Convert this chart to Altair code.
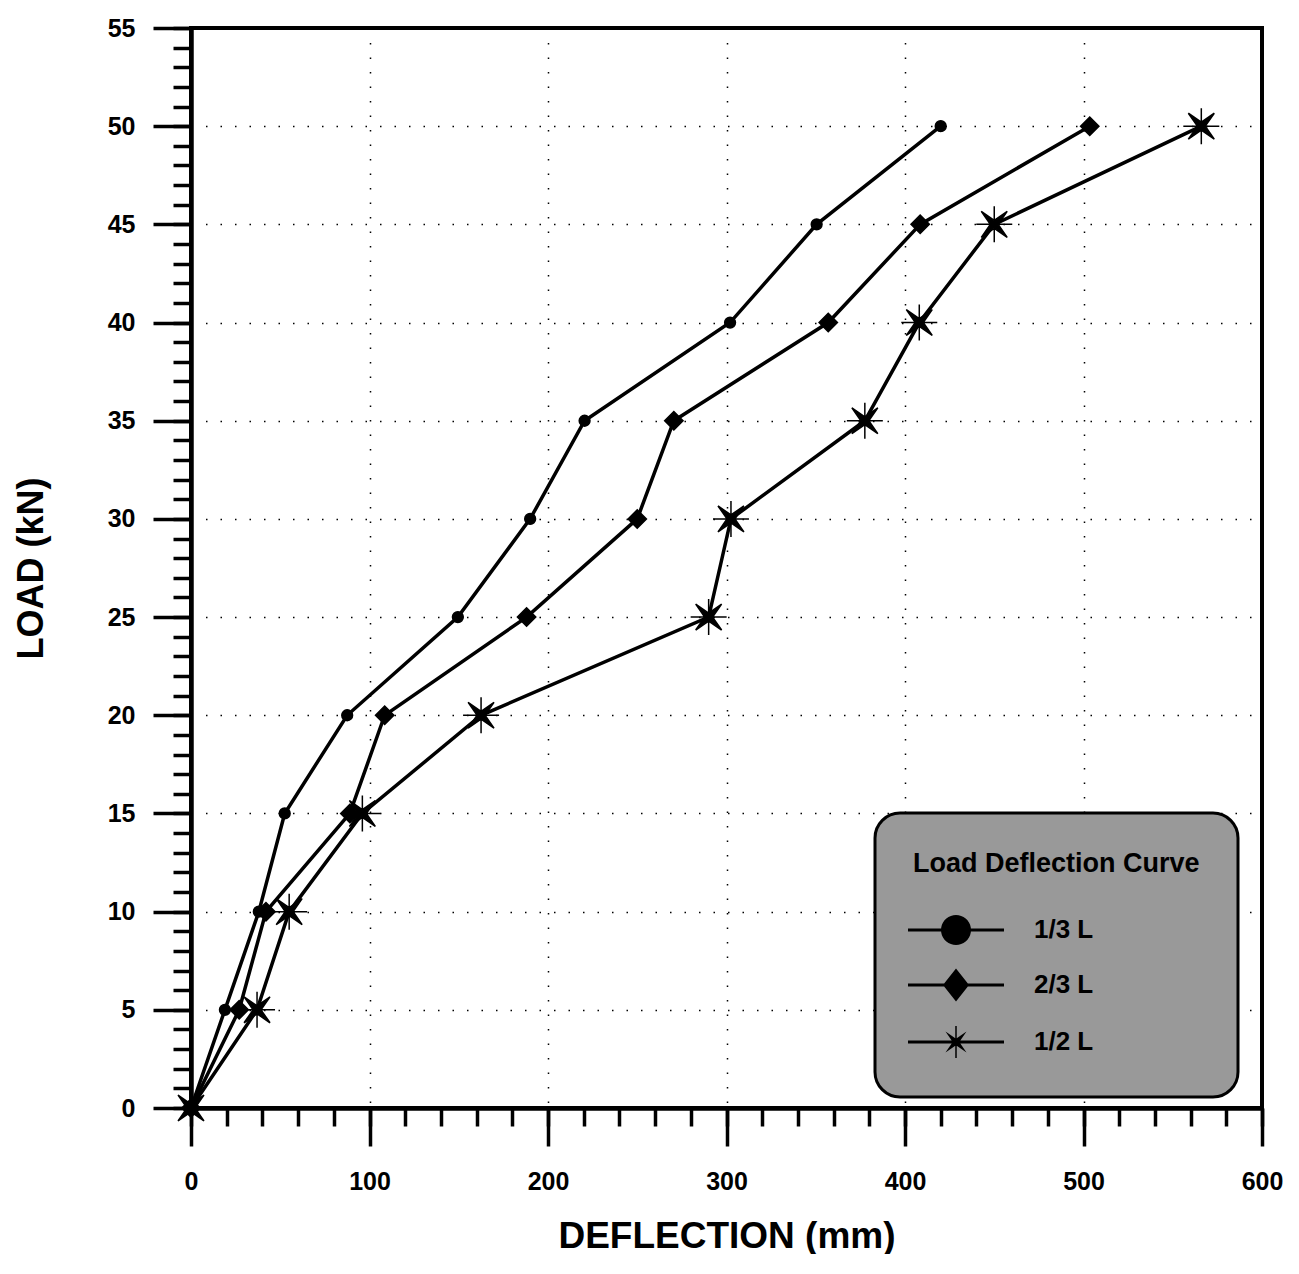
import math
import altair as alt
import pandas as pd

# ---- data ----
load = [0, 5, 10, 15, 20, 25, 30, 35, 40, 45, 50]
defl_13 = [0, 19, 38, 52.5, 87.5, 149.5, 190, 220.5, 302, 350.5, 420]
defl_23 = [0, 27, 42, 89, 108.5, 188, 250, 270.5, 357, 408.5, 503.5]
defl_12 = [0, 37, 55, 96, 162.5, 290, 302.5, 377.5, 408, 450, 566]
series = ["1/3 L", "2/3 L", "1/2 L"]

x_major = list(range(0, 601, 100))
x_minor = list(range(0, 601, 20))
y_major = list(range(0, 56, 5))
y_minor = list(range(0, 56, 1))

rows = []
for name, vals in zip(series, [defl_13, defl_23, defl_12]):
    for l, d in zip(load, vals):
        rows.append({"series": name, "deflection": d, "load": l})
df = pd.DataFrame(rows)

BOLD = "Liberation Sans, Arial, Helvetica, sans-serif"

# plot marker shapes (unit = 18 px at size 1296)
P_CIRCLE = "M-0.3,0A0.3,0.3,0,1,1,0.3,0A0.3,0.3,0,1,1,-0.3,0Z"
P_DIAMOND = "M-0.51,0L0,-0.51L0.51,0L0,0.51Z"
P_STAR = ("M-0.72,-0.72L0,-0.22L0.72,-0.72L0.22,0L0.72,0.72L0,0.22L-0.72,0.72L-0.22,0Z"
          "M0,-1V1M-1,0H1")
point_shapes = [P_CIRCLE, P_DIAMOND, P_STAR]

# legend symbols: marker with a line through it, all filled (unit = 15 px at size 900)
LINE = "M-3.2,-0.1H3.2V0.1H-3.2Z"
circ_pts = ["%.3f,%.3f" % (math.cos(2 * math.pi * k / 36), math.sin(2 * math.pi * k / 36))
            for k in range(36)]
LEG_CIRCLE = LINE + "M" + "L".join(circ_pts) + "Z"
LEG_DIAMOND = LINE + "M0,-1.1L0.87,0L0,1.1L-0.87,0Z"
LEG_STAR = (LINE + "M-0.7,-0.7L0,-0.22L0.7,-0.7L0.22,0L0.7,0.7L0,0.22L-0.7,0.7L-0.22,0Z"
            "M-0.05,-1.07H0.05V1.07H-0.05Z")
legend_shapes = [LEG_CIRCLE, LEG_DIAMOND, LEG_STAR]

xscale = alt.Scale(domain=[0, 600], nice=False)
yscale = alt.Scale(domain=[0, 55], nice=False)

common_axis = dict(domainColor="black", domainWidth=4, tickColor="black",
                   tickWidth=3.5, labelColor="black", titleColor="black")

x_axis_major = alt.Axis(values=x_major, tickSize=38, labelFont=BOLD, labelFontSize=25,
                        labelFontWeight="bold", labelPadding=23, labelFlush=False,
                        labelOverlap=False, title="DEFLECTION (mm)", titleFont=BOLD,
                        titleFontSize=37, titleFontWeight="bold", titlePadding=24,
                        grid=True, gridDash=[1.5, 13], gridColor="black", gridWidth=1.5,
                        gridOpacity=1, orient="bottom", **common_axis)
x_axis_minor = alt.Axis(values=x_minor, tickSize=18, labels=False, grid=False,
                        orient="bottom", title=None, **common_axis)
y_axis_major = alt.Axis(values=y_major, tickSize=38, labelFont=BOLD, labelFontSize=25,
                        labelFontWeight="bold", labelPadding=18, labelFlush=False,
                        labelOverlap=False, title="LOAD (kN)", titleFont=BOLD,
                        titleFontSize=36, titleFontWeight="bold", titlePadding=57,
                        grid=True, gridDash=[1.5, 13], gridColor="black", gridWidth=1.5,
                        gridOpacity=1, orient="left", **common_axis)
y_axis_minor = alt.Axis(values=y_minor, tickSize=18, labels=False, grid=False,
                        orient="left", title=None, **common_axis)

base = alt.Chart(df)

lines = base.mark_line(color="black", strokeWidth=3.5).encode(
    x=alt.X("deflection:Q", scale=xscale, axis=x_axis_major),
    y=alt.Y("load:Q", scale=yscale, axis=y_axis_major),
    detail="series:N",
    order="load:Q",
)

points = base.mark_point(filled=True, fill="black", stroke="black", strokeWidth=1.5,
                         size=1296, opacity=1).encode(
    x=alt.X("deflection:Q", scale=xscale, axis=x_axis_minor),
    y=alt.Y("load:Q", scale=yscale, axis=y_axis_minor),
    shape=alt.Shape("series:N", scale=alt.Scale(domain=series, range=point_shapes),
                    legend=None),
)

legend_layer = base.mark_point(filled=True, fill="black", opacity=0).encode(
    x=alt.X("deflection:Q", scale=xscale, axis=None),
    y=alt.Y("load:Q", scale=yscale, axis=None),
    shape=alt.Shape(
        "series:N",
        scale=alt.Scale(domain=series, range=legend_shapes),
        legend=alt.Legend(
            orient="none", legendX=684, legendY=785,
            title="Load Deflection Curve", titleFont=BOLD, titleFontSize=27,
            titleFontWeight="bold", titleColor="black", titleAnchor="start",
            titlePadding=37, titleLimit=500,
            labelFont=BOLD, labelFontSize=26, labelFontWeight="bold",
            labelColor="black", labelOffset=63, labelLimit=300,
            rowPadding=23, symbolSize=900, symbolStrokeWidth=0,
            symbolFillColor="black", symbolOpacity=1,
            symbolOffset=28, fillColor="#999999", strokeColor="black",
            cornerRadius=25, padding=38,
        ),
    ),
)

chart = alt.layer(lines, points, legend_layer).resolve_scale(
    shape="independent"
).resolve_axis(
    x="independent", y="independent"
).properties(
    width=1071, height=1080,
    padding={"top": 8, "left": 5, "right": 5, "bottom": 0},
    background="white",
).configure_view(
    stroke="black", strokeWidth=4
).configure_legend(
    strokeWidth=3
)

chart.save("out.html", embed_options={"renderer": "svg", "actions": False})
